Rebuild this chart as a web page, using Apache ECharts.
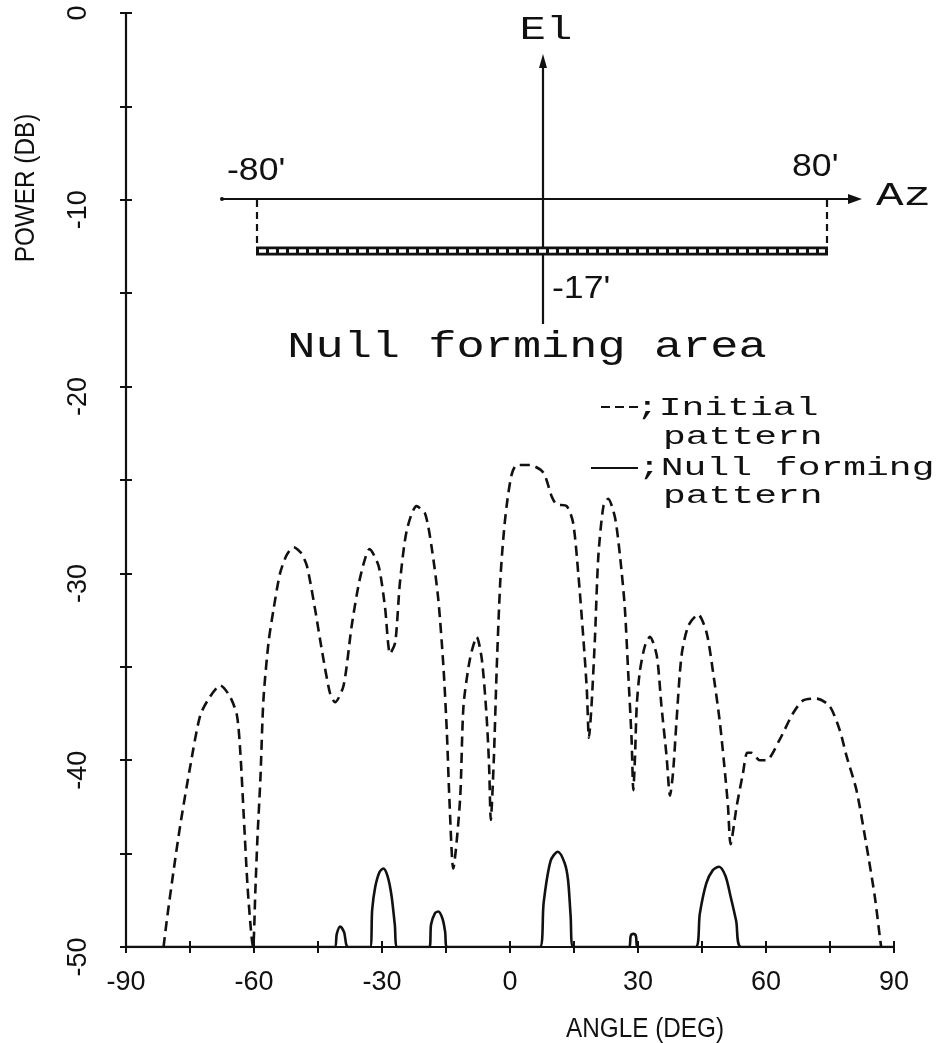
<!DOCTYPE html>
<html><head><meta charset="utf-8">
<script src="https://cdn.jsdelivr.net/npm/echarts@6/dist/echarts.min.js"></script>
<style>html,body{margin:0;padding:0;background:#fff}#c{width:938px;height:1043px}</style>
</head><body><div id="c"></div>
<script>
// ---- data ----
const xTicks = [-90, -60, -30, 0, 30, 60, 90];
const yTicks = [-50, -40, -30, -20, -10, 0];
const seriesNames = ['Initial pattern', 'Null forming pattern'];

const initialAngle = [-81.2,-80.4,-78.9,-77.3,-75.0,-72.6,-70.3,-67.9,-65.6,-64.0,-63.2,-62.4,-61.5,-60.6,-60.2,-59.7,-59.2,-58.5,-57.8,-56.6,-55.4,-53.9,-52.3,-50.7,-49.0,-47.6,-45.7,-44.1,-42.2,-41.0,-39.0,-37.1,-35.1,-32.9,-30.8,-29.3,-28.1,-26.9,-25.8,-24.2,-21.9,-19.9,-18.3,-16.8,-15.6,-14.8,-14.2,-13.3,-11.7,-10.9,-9.4,-7.8,-6.6,-5.5,-4.9,-4.5,-3.8,-3.1,-2.3,-1.6,-0.8,0.4,1.6,4.7,7.8,9.8,10.9,13.3,14.8,16.0,17.2,18.0,18.5,19.1,19.9,20.7,21.9,23.0,24.6,25.8,26.9,27.7,28.5,28.9,29.3,29.7,30.4,31.6,32.8,34.4,35.5,36.7,37.5,38.2,39.0,40.2,41.8,44.1,46.1,47.6,49.2,50.4,51.1,51.7,53.1,54.6,55.6,56.6,58.5,60.1,63.2,66.3,68.7,71.8,74.9,77.3,78.9,81.2,83.5,85.5,86.7,87.0];
const initialPower = [-50,-48.5,-46.0,-43.5,-40.4,-37.6,-36.6,-36.0,-36.6,-37.6,-39.6,-43.0,-46.8,-49.4,-50,-47.1,-44.2,-41.0,-36.8,-33.7,-31.9,-30.0,-29.0,-28.6,-28.9,-29.6,-31.9,-34.1,-36.4,-36.9,-36.0,-32.8,-30.2,-28.7,-29.6,-31.8,-34.3,-33.7,-30.5,-27.7,-26.4,-26.8,-28.7,-31.4,-35.0,-38.5,-42.1,-45.8,-42.1,-37.1,-34.6,-33.4,-34.6,-37.6,-40.3,-43.2,-40.0,-35.0,-30.5,-28.2,-26.4,-24.7,-24.2,-24.2,-24.6,-25.9,-26.3,-26.4,-27.3,-30.0,-33.5,-36.2,-38.8,-37.1,-33.5,-29.1,-26.4,-26.0,-27.0,-29.1,-31.8,-35.3,-38.9,-41.6,-39.8,-37.1,-35.3,-33.9,-33.4,-34.4,-37.1,-39.8,-41.9,-40.7,-38.0,-34.4,-32.8,-32.2,-33.2,-35.3,-38.0,-40.7,-42.5,-44.5,-42.5,-40.7,-39.6,-39.6,-40.0,-40.0,-38.9,-37.5,-36.8,-36.7,-37.1,-38.4,-39.8,-41.6,-44.5,-47.3,-49.5,-50];

const nullAngle = [-90,-41.1,-40.6,-39.8,-38.9,-37.9,-32.8,-32.3,-31.6,-30.6,-29.7,-28.7,-27.8,-27.0,-26.4,-18.9,-18.5,-17.6,-16.8,-15.8,-15.2,-14.8,7.0,7.9,9.5,11.2,12.8,13.6,14.2,14.8,27.9,28.3,28.9,29.5,29.9,43.5,44.5,46.0,47.5,49.0,50.5,51.7,53.0,54.2,90];
const nullPower = [-50,-50,-49.3,-48.9,-49.2,-50,-50,-48.0,-46.8,-46.0,-45.8,-46.2,-47.2,-48.8,-50,-50,-48.8,-48.2,-48.1,-48.5,-49.2,-50,-50,-47.6,-45.4,-44.9,-45.5,-46.4,-48.3,-50,-50,-49.4,-49.3,-49.4,-50,-50,-48.2,-46.6,-45.9,-45.7,-46.2,-47.3,-48.6,-50,-50];

const zip = (a, b) => a.map((v, i) => [v, b[i]]);

// ---- styles ----
const INK = '#111';
const MONO = "'Liberation Mono', 'DejaVu Sans Mono', monospace";
const SANS = "'Liberation Sans Narrow', 'Liberation Sans', 'DejaVu Sans', sans-serif";

function txt(text, x, y, size, family, opts = {}) {
  return {
    type: 'text', x, y,
    scaleX: opts.sx || 1, scaleY: opts.sy || 1,
    rotation: opts.rot || 0,
    style: {
      text, fill: INK,
      font: (opts.bold ? 'bold ' : '') + size + 'px ' + family,
      textAlign: opts.align || 'left', textVerticalAlign: 'middle'
    }, z: 10
  };
}
function seg(x1, y1, x2, y2, dash) {
  return { type: 'line', shape: { x1, y1, x2, y2 }, style: { stroke: INK, lineWidth: 2.2, lineDash: dash || null }, z: 10 };
}

const graphics = [
  // inset diagram: Az axis
  seg(222, 199, 850, 199),
  { type: 'polygon', shape: { points: [[862, 199], [848, 194], [848, 204]] }, style: { fill: INK }, z: 10 },
  { type: 'circle', shape: { cx: 222, cy: 199, r: 2 }, style: { fill: INK }, z: 10 },
  // El axis
  seg(543, 324, 543, 66),
  { type: 'polygon', shape: { points: [[543, 54], [539, 68], [547, 68]] }, style: { fill: INK }, z: 10 },
  // dashed drops and hatched bar
  seg(257, 200, 257, 248, [7, 5]),
  seg(827, 200, 827, 248, [7, 5]),
  { type: 'rect', shape: { x: 256, y: 246.5, width: 572, height: 9 }, style: { fill: INK }, z: 10 },
  { type: 'line', shape: { x1: 259, y1: 251, x2: 825, y2: 251 }, style: { stroke: '#fff', lineWidth: 3.5, lineDash: [7, 3] }, z: 11 },
  txt('El', 546, 30, 44, MONO, { align: 'center', sy: 0.75 }),
  txt('Az', 876, 196, 46, MONO, { sy: 0.72 }),
  txt("-80'", 227, 171, 31, SANS, { sx: 1.15 }),
  txt("80'", 792, 167, 31, SANS, { sx: 1.15 }),
  txt("-17'", 552, 289, 31, SANS, { sx: 1.15 }),
  txt('Null forming area', 527, 347, 47, MONO, { align: 'center', sy: 0.8 }),
  // legend
  seg(601, 407, 641, 407, [9, 5]),
  txt(';Initial', 636, 408, 38, MONO, { sy: 0.7 }),
  txt('pattern', 663, 437, 38, MONO, { sy: 0.7 }),
  seg(591, 468, 638, 468),
  txt(';Null forming', 638, 468, 38, MONO, { sy: 0.7 }),
  txt('pattern', 663, 496, 38, MONO, { sy: 0.7 }),
  // axis titles
  txt('POWER (DB)', 27, 188, 27, SANS, { align: 'center', rot: Math.PI / 2, sx: 0.9 }),
  txt('ANGLE (DEG)', 645, 1030, 27, SANS, { align: 'center', sx: 0.9 })
];

const tickStyle = { color: INK, width: 2 };
function xAx(inside, gridIndex) {
  return {
    type: 'value', gridIndex, min: xTicks[0], max: xTicks[xTicks.length - 1], interval: 30, position: 'bottom',
    axisLine: { show: !inside, onZero: false, lineStyle: { color: INK, width: 2.2 } },
    axisTick: { show: true, inside, length: 6, lineStyle: tickStyle },
    minorTick: { show: true, splitNumber: 2, length: 6, lineStyle: tickStyle },
    splitLine: { show: false }, minorSplitLine: { show: false },
    axisLabel: { show: !inside, margin: 22, fontSize: 27, fontFamily: SANS, color: INK, formatter: v => String(v) }
  };
}
function yAx(inside, gridIndex) {
  return {
    type: 'value', gridIndex, min: yTicks[0], max: yTicks[yTicks.length - 1], interval: 10, position: 'left',
    axisLine: { show: !inside, onZero: false, lineStyle: { color: INK, width: 2.2 } },
    axisTick: { show: true, inside, length: 6, lineStyle: tickStyle },
    minorTick: { show: true, splitNumber: 2, length: 6, lineStyle: tickStyle },
    splitLine: { show: false }, minorSplitLine: { show: false },
    axisLabel: {
      show: !inside, rotate: 90, margin: 34, fontSize: 27, fontFamily: SANS, color: INK,
      formatter: v => v < 0 ? '{n|' + v + '}' : '{p|' + v + '}',
      rich: { n: { fontSize: 27, fontFamily: SANS, color: INK, padding: [0, 20, 0, 0] }, p: { fontSize: 27, fontFamily: SANS, color: INK } }
    }
  };
}

const gridBox = { left: 126, right: 44, top: 13, bottom: 96, containLabel: false };
const chart = echarts.init(document.getElementById('c'), null, { renderer: 'canvas' });
chart.setOption({
  backgroundColor: '#fff',
  animation: false,
  grid: [Object.assign({}, gridBox), Object.assign({}, gridBox)],
  xAxis: [xAx(false, 0), xAx(true, 1)],
  yAxis: [yAx(false, 0), yAx(true, 1)],
  series: [
    { name: seriesNames[0], type: 'line', xAxisIndex: 0, yAxisIndex: 0, data: zip(initialAngle, initialPower), showSymbol: false, smooth: 0.25,
      lineStyle: { color: INK, width: 2.6, type: [10, 6] }, z: 3 },
    { name: seriesNames[1], type: 'line', xAxisIndex: 0, yAxisIndex: 0, data: zip(nullAngle, nullPower), showSymbol: false, smooth: 0.3,
      lineStyle: { color: INK, width: 2.6 }, z: 3 }
  ],
  graphic: graphics
});
</script></body></html>
